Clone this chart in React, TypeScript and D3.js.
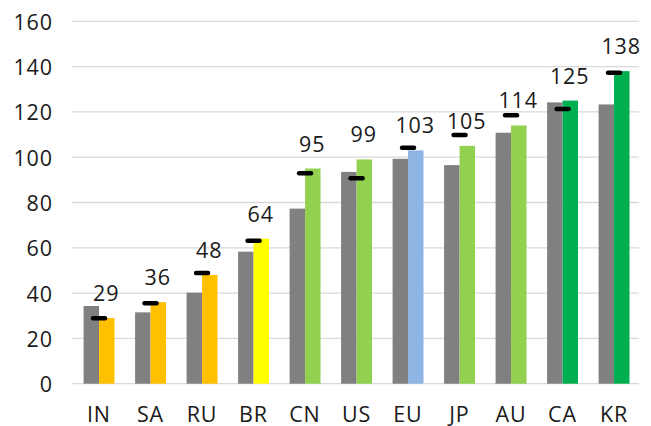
import React from 'react';
import * as d3 from 'd3';

// categorias y valores
const countries = ['IN', 'SA', 'RU', 'BR', 'CN', 'US', 'EU', 'JP', 'AU', 'CA', 'KR'];
const greyValues = [34.3, 31.5, 40.2, 58.3, 77.3, 93.5, 99.3, 96.5, 110.8, 124.2, 123.3];
const colorValues = [29, 36, 48, 64, 95, 99, 103, 105, 114, 125, 138];
const markerValues = [28.9, 35.5, 48.9, 63.1, 92.9, 90.7, 104.2, 109.8, 118.5, 121.3, 137.3];
const barColors = ['#FFC000', '#FFC000', '#FFC000', '#FFFF00', '#92D050', '#92D050', '#8EB4E3', '#92D050', '#92D050', '#00B050', '#00B050'];
const yTicks = [0, 20, 40, 60, 80, 100, 120, 140, 160];

const W = 651, H = 426;
const plot = { left: 72, right: 639, top: 21.3, bottom: 383.7 };

function App() {
  const x = d3.scaleBand<string>().domain(countries).range([73.3, 639.8]).padding(0);
  const y = d3.scaleLinear().domain([0, 160]).range([plot.bottom, plot.top]);
  const bw = x.bandwidth() * 0.3;
  const font = '"Open Sans", "Noto Sans", sans-serif';
  const ls = 0.8;

  return (
    <svg width={W} height={H} style={{ position: 'absolute', left: 0, top: 0, background: '#fff' }}>
      {/* lineas de la cuadricula y etiquetas del eje y */}
      {yTicks.map(t => (
        <g key={t}>
          <line x1={plot.left} x2={plot.right} y1={y(t)} y2={y(t)} stroke="#d9d9d9" strokeWidth={1.3} />
          <text x={52 + ls} y={y(t)} textAnchor="end" dominantBaseline="central" fontFamily={font} fontSize={21.5} letterSpacing={ls} fill="#1a1a1a">{t}</text>
        </g>
      ))}
      {countries.map((c, i) => {
        const cx = (x(c) as number) + x.bandwidth() / 2;
        return (
          <g key={c}>
            <rect x={cx - bw} y={y(greyValues[i])} width={bw} height={y(0) - y(greyValues[i])} fill="#808080" />
            <rect x={cx} y={y(colorValues[i])} width={bw} height={y(0) - y(colorValues[i])} fill={barColors[i]} />
            <line x1={cx - 6} x2={cx + 6} y1={y(markerValues[i])} y2={y(markerValues[i])} stroke="#000" strokeWidth={4.5} strokeLinecap="round" />
            <text x={cx + bw / 2 - 1 + ls / 2} y={y(colorValues[i]) - 17} textAnchor="middle" fontFamily={font} fontSize={21.5} letterSpacing={ls} fill="#1a1a1a">{colorValues[i]}</text>
            <text x={cx - 0.5 + ls / 2} y={421.5} textAnchor="middle" fontFamily={font} fontSize={21.5} letterSpacing={ls} fill="#1a1a1a">{c}</text>
          </g>
        );
      })}
    </svg>
  );
}

export default App;
